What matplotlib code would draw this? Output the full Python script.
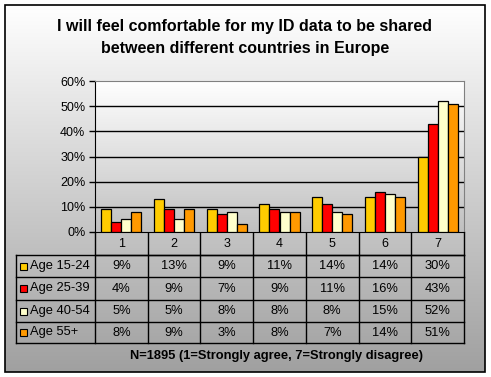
import numpy as np
import matplotlib
matplotlib.use("Agg")
import matplotlib.pyplot as plt
from matplotlib.patches import Rectangle
from matplotlib.colors import LinearSegmentedColormap

plt.rcParams['font.family'] = ['Liberation Sans', 'DejaVu Sans']

categories = ['1', '2', '3', '4', '5', '6', '7']
series_names = ['Age 15-24', 'Age 25-39', 'Age 40-54', 'Age 55+']
age_15_24 = [9, 13, 9, 11, 14, 14, 30]
age_25_39 = [4, 9, 7, 9, 11, 16, 43]
age_40_54 = [5, 5, 8, 8, 8, 15, 52]
age_55_plus = [8, 9, 3, 8, 7, 14, 51]
series_values = [age_15_24, age_25_39, age_40_54, age_55_plus]
colors = ['#FFCC00', '#FF0000', '#FFFFCC', '#FF9900']
yticks = [0, 10, 20, 30, 40, 50, 60]
title_lines = ['I will feel comfortable for my ID data to be shared',
               'between different countries in Europe']
footnote = 'N=1895 (1=Strongly agree, 7=Strongly disagree)'

W, H = 491, 377
fig = plt.figure(figsize=(W / 100, H / 100), dpi=100)
fig.patch.set_facecolor('white')

# Background axes in pixel coordinates
bg = fig.add_axes([0, 0, 1, 1])
bg.set_xlim(0, W)
bg.set_ylim(H, 0)
bg.axis('off')
grad = np.linspace(0, 1, 256).reshape(-1, 1)
cmap_bg = LinearSegmentedColormap.from_list('bg', ['#ffffff', '#a0a0a0'])
bg.imshow(grad, cmap=cmap_bg, extent=[5, 485, 372, 5], aspect='auto', zorder=0)
bg.add_patch(Rectangle((5, 5), 480, 367, fill=False, edgecolor='black', lw=1.2, zorder=5))
bg.text(245, 26, title_lines[0], ha='center', va='center', fontsize=11.5, fontweight='bold')
bg.text(245, 48, title_lines[1], ha='center', va='center', fontsize=11.5, fontweight='bold')

# Plot axes
L, R, T, B = 95, 464, 81, 232
ax = fig.add_axes([L / W, (H - B) / H, (R - L) / W, (B - T) / H])
ax.patch.set_alpha(0)
n = len(categories)
x = np.arange(n)
bw = 0.19
for i, (vals, c) in enumerate(zip(series_values, colors)):
    ax.bar(x + (i - 1.5) * bw, vals, width=bw, color=c, edgecolor='black', linewidth=0.9, zorder=3)
ax.set_xlim(-0.5, n - 0.5)
ax.set_ylim(0, 60)
ax.set_yticks(yticks)
ax.set_yticklabels([f'{v}%' for v in yticks], fontsize=9)
ax.set_xticks([])
ax.tick_params(axis='y', length=4, width=1, pad=3)
cmap_pa = LinearSegmentedColormap.from_list('pa', ['#ffffff', '#c0c0c0'])
ax.imshow(grad, cmap=cmap_pa, extent=[-0.5, n - 0.5, 0, 60], aspect='auto', zorder=0)
for v in yticks[1:-1]:
    ax.axhline(v, color='black', lw=1.0, zorder=1)
for s in ['top', 'right']:
    ax.spines[s].set_color('#808080')
ax.spines['left'].set_color('black')
ax.spines['bottom'].set_color('black')

# Table
col_w = (R - L) / n
rows_y = [232, 255, 277, 300, 322, 343]
TL = 16
for k in range(n + 1):
    xx = L + k * col_w
    bg.plot([xx, xx], [232, 343], color='black', lw=1.0, zorder=4)
bg.plot([TL, TL], [255, 343], color='black', lw=1.0, zorder=4)
bg.plot([L, R], [255, 255], color='black', lw=1.0, zorder=4)
for yy in rows_y[1:]:
    bg.plot([TL, R], [yy, yy], color='black', lw=1.0, zorder=4)
for k, c in enumerate(categories):
    bg.text(L + (k + 0.5) * col_w, 244, c, ha='center', va='center', fontsize=9, zorder=6)
for r, (name, vals, colr) in enumerate(zip(series_names, series_values, colors)):
    yc = (rows_y[r + 1] + rows_y[r + 2]) / 2
    bg.add_patch(Rectangle((20, yc - 3.5), 7, 7, facecolor=colr, edgecolor='black', lw=0.8, zorder=6))
    bg.text(30, yc, name, ha='left', va='center', fontsize=9.3, zorder=6)
    for k, v in enumerate(vals):
        bg.text(L + (k + 0.5) * col_w, yc, f'{v}%', ha='center', va='center', fontsize=9.3, zorder=6)

bg.text(277, 356, footnote, ha='center', va='center', fontsize=9.3, fontweight='bold', zorder=6)

fig.savefig('out.png', dpi=100)
